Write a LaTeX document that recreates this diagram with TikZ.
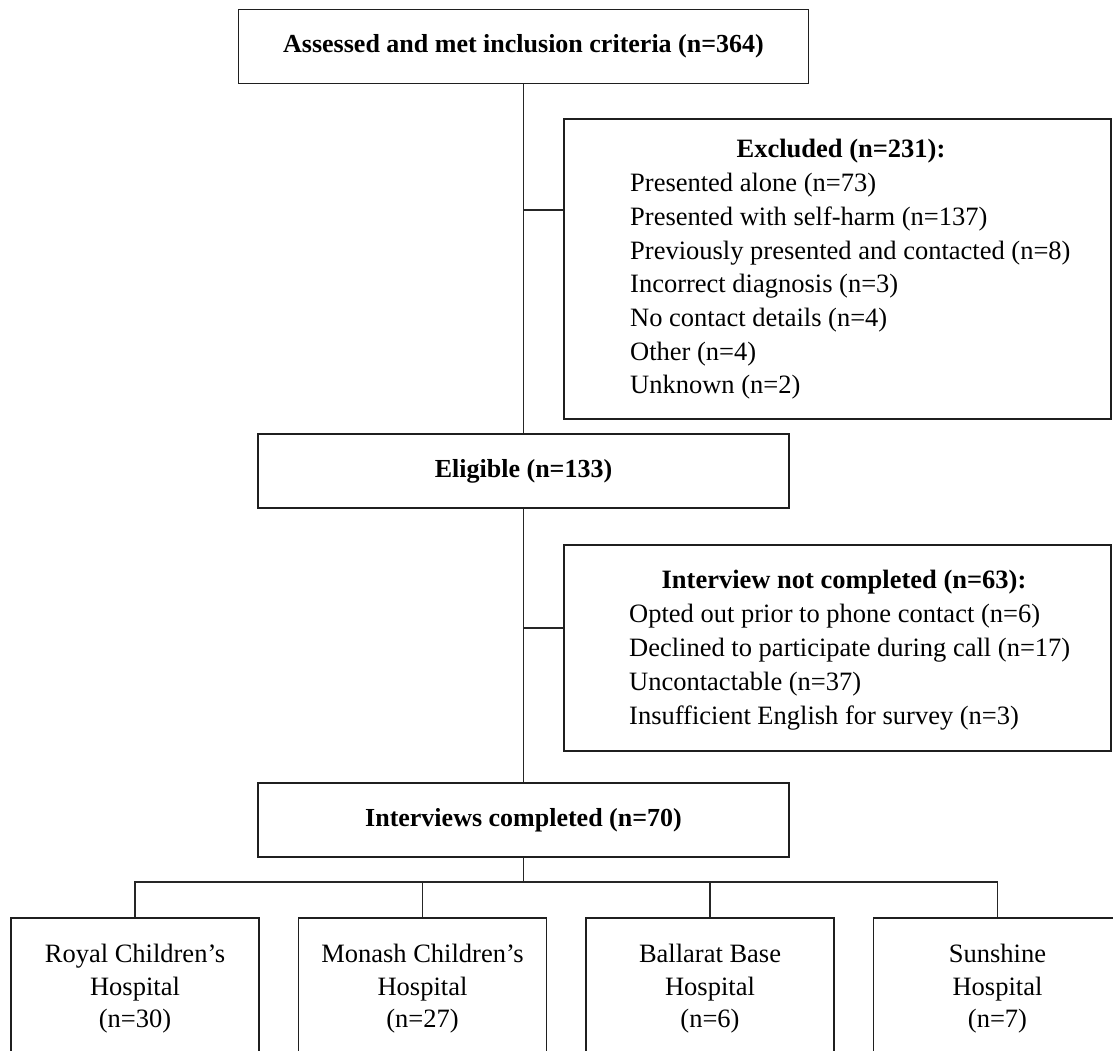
\documentclass[tikz,border=0pt]{standalone}
\usepackage{fontspec}
\setmainfont{Liberation Serif}
\begin{document}
\begin{tikzpicture}[x=1pt,y=-1pt,
  box/.style={draw=black!88, line width=1.8pt, fill=white, inner sep=0pt},
  mainbox/.style={box, minimum width=#1, minimum height=74pt, font=\fontsize{26}{33}\selectfont\bfseries},
  sidebox/.style={box, anchor=north west, minimum width=547pt, minimum height=#1},
  sitebox/.style={box, anchor=north, minimum width=248pt, minimum height=200pt},
  conn/.style={draw=black!85, line width=1.4pt},
  ttl/.style={anchor=base, inner sep=0pt, font=\fontsize{26.5}{33}\selectfont\bfseries},
  itm/.style={anchor=base west, inner sep=0pt, font=\fontsize{26.5}{33}\selectfont},
  ctr/.style={anchor=base, inner sep=0pt, font=\fontsize{26.5}{33}\selectfont}]
\useasboundingbox (0,0) rectangle (1113,1051);
\clip (0,0) rectangle (1113,1051);
\fill[white] (0,0) rectangle (1113,1051);

% main column
\node[mainbox=570pt] (top) at (523.5,46.5) {Assessed and met inclusion criteria (n=364)};
\node[mainbox=531pt] (elig) at (523.5,471) {Eligible (n=133)};
\node[mainbox=531pt] (comp) at (523.5,820) {Interviews completed (n=70)};

% excluded box
\node[sidebox=300pt] (excl) at (563,118) {};
\node[ttl] (exclt) at (841,158) {Excluded (n=231):};
\foreach \t [count=\i] in {Presented alone (n=73),Presented with self-harm (n=137),Previously presented and contacted (n=8),Incorrect diagnosis (n=3),No contact details (n=4),Other (n=4),Unknown (n=2)}
  \node[itm] (ex\i) at (630,158+33.7*\i) {\t};

% interview not completed box
\node[sidebox=206pt] (inc) at (563,544) {};
\node[ttl] (inct) at (844,588) {Interview not completed (n=63):};
\foreach \t [count=\i] in {Opted out prior to phone contact (n=6),Declined to participate during call (n=17),Uncontactable (n=37),Insufficient English for survey (n=3)}
  \node[itm] (in\i) at (629,588+34*\i) {\t};

% site boxes
\node[sitebox] (royal) at (135,917) {};
\node[sitebox] (monash) at (422.5,917) {};
\node[sitebox] (ballarat) at (710,917) {};
\node[sitebox] (sun) at (997.5,917) {};
\node[ctr] (r1) at (135,962) {Royal Children’s};
\node[ctr] (r2) at (135,995) {Hospital};
\node[ctr] (r3) at (135,1027) {(n=30)};
\node[ctr] (m1) at (422.5,962) {Monash Children’s};
\node[ctr] (m2) at (422.5,995) {Hospital};
\node[ctr] (m3) at (422.5,1027) {(n=27)};
\node[ctr] (b1) at (710,962) {Ballarat Base};
\node[ctr] (b2) at (710,995) {Hospital};
\node[ctr] (b3) at (710,1027) {(n=6)};
\node[ctr] (s1) at (997.5,962) {Sunshine};
\node[ctr] (s2) at (997.5,995) {Hospital};
\node[ctr] (s3) at (997.5,1027) {(n=7)};

% connectors
\draw[conn] (top.south) -- (elig.north);
\coordinate (j1) at (523.5,210);
\draw[conn] (j1) -- (j1 -| excl.west);
\draw[conn] (elig.south) -- (comp.north);
\coordinate (j2) at (523.5,628);
\draw[conn] (j2) -- (j2 -| inc.west);
\coordinate (hb) at (523.5,882);
\draw[conn] (comp.south) -- (hb);
\draw[conn] (royal.north) -- (royal.north |- hb) -- (sun.north |- hb) -- (sun.north);
\draw[conn] (monash.north) -- (monash.north |- hb);
\draw[conn] (ballarat.north) -- (ballarat.north |- hb);
\end{tikzpicture}
\end{document}
